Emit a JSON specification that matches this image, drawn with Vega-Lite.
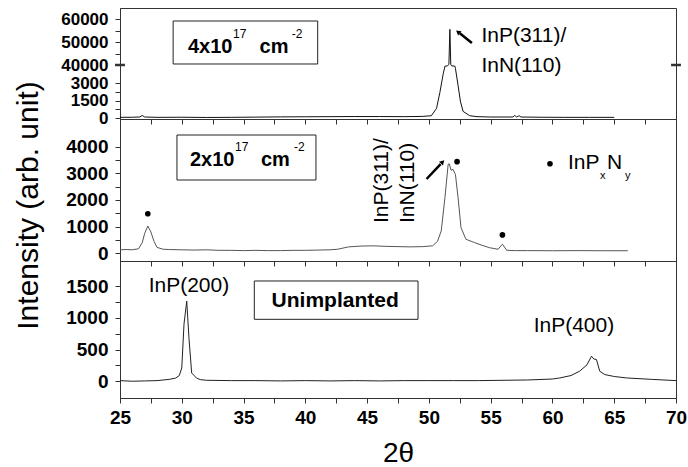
{
  "$schema": "https://vega.github.io/schema/vega-lite/v6.json",
  "padding": {"top": 7, "left": 12, "right": 0, "bottom": 0},
  "background": "white",
  "spacing": 0,
  "bounds": "flush",
  "config": {
    "font": "Liberation Sans",
    "view": {"stroke": "#333", "strokeWidth": 1},
    "axis": {"labelFont": "Liberation Sans", "labelFontSize": 19, "labelFontWeight": "bold", "labelColor": "#000", "tickColor": "#333", "domainColor": "#333", "tickSize": 5, "tickCount": 100, "grid": false, "labelOverlap": false, "labelFlush": false, "labelBound": false, "titleFont": "Liberation Sans", "titleFontWeight": "normal", "titleColor": "#000"},
    "axisY": {"labelPadding": 7},
    "axisX": {"labelPadding": 5}
  },
  "datasets": {
    "s1": [
      {"x":25,"y":60},{"x":26,"y":70},{"x":26.6,"y":90},{"x":26.8,"y":220},{"x":27.0,"y":90},{"x":28,"y":60},{"x":30,"y":70},{"x":32,"y":50},{"x":34,"y":60},{"x":36,"y":80},{"x":38,"y":100},{"x":40,"y":110},{"x":42,"y":120},{"x":44,"y":130},{"x":46,"y":130},{"x":48,"y":120},{"x":49.5,"y":140},{"x":50.2,"y":200},{"x":50.62,"y":835},{"x":50.89,"y":2190},{"x":51.16,"y":22000},{"x":51.3,"y":37700},{"x":51.5,"y":38000},{"x":51.62,"y":40300},{"x":51.7,"y":55500},{"x":51.77,"y":40300},{"x":51.84,"y":38200},{"x":52.1,"y":37800},{"x":52.15,"y":33000},{"x":52.37,"y":2730},{"x":52.56,"y":1380},{"x":52.77,"y":570},{"x":53.3,"y":200},{"x":53.9,"y":120},{"x":55,"y":90},{"x":56.8,"y":90},{"x":56.95,"y":220},{"x":57.1,"y":90},{"x":57.3,"y":200},{"x":57.45,"y":90},{"x":59,"y":70},{"x":61,"y":60},{"x":63,"y":60},{"x":65,"y":60}
    ],
    "s2": [
      {"x":25,"y":130},{"x":25.5,"y":140},{"x":26,"y":130},{"x":26.5,"y":170},{"x":26.8,"y":400},{"x":27.0,"y":750},{"x":27.25,"y":1025},{"x":27.5,"y":800},{"x":27.75,"y":450},{"x":28.0,"y":220},{"x":28.5,"y":150},{"x":29,"y":140},{"x":30,"y":130},{"x":31,"y":120},{"x":32,"y":130},{"x":33,"y":110},{"x":34,"y":110},{"x":35,"y":100},{"x":36,"y":110},{"x":37,"y":100},{"x":38,"y":100},{"x":39,"y":110},{"x":40,"y":110},{"x":41,"y":120},{"x":42,"y":130},{"x":42.6,"y":150},{"x":43.5,"y":240},{"x":44.5,"y":270},{"x":45.5,"y":280},{"x":46.5,"y":260},{"x":47.5,"y":250},{"x":48.5,"y":240},{"x":49.5,"y":250},{"x":50.3,"y":280},{"x":50.7,"y":450},{"x":51.0,"y":840},{"x":51.3,"y":2090},{"x":51.56,"y":3340},{"x":51.65,"y":3360},{"x":51.8,"y":3115},{"x":51.95,"y":3150},{"x":52.15,"y":2960},{"x":52.36,"y":2090},{"x":52.6,"y":960},{"x":53.0,"y":525},{"x":53.7,"y":400},{"x":54.3,"y":300},{"x":54.9,"y":210},{"x":55.6,"y":150},{"x":55.95,"y":340},{"x":56.3,"y":113},{"x":57,"y":100},{"x":58,"y":100},{"x":60,"y":95},{"x":62,"y":100},{"x":64,"y":95},{"x":66.1,"y":95}
    ],
    "s3": [
      {"x":25,"y":10},{"x":26,"y":0},{"x":27,"y":5},{"x":28,"y":10},{"x":29,"y":30},{"x":29.5,"y":50},{"x":29.8,"y":90},{"x":30.0,"y":210},{"x":30.18,"y":900},{"x":30.4,"y":1263},{"x":30.58,"y":685},{"x":30.8,"y":130},{"x":31.2,"y":50},{"x":31.5,"y":26},{"x":32,"y":15},{"x":34,"y":10},{"x":36,"y":10},{"x":38,"y":5},{"x":40,"y":10},{"x":42,"y":5},{"x":44,"y":10},{"x":46,"y":5},{"x":48,"y":10},{"x":50,"y":10},{"x":52,"y":10},{"x":54,"y":10},{"x":56,"y":15},{"x":58,"y":20},{"x":60,"y":35},{"x":60.6,"y":52},{"x":61.5,"y":90},{"x":62.2,"y":158},{"x":62.8,"y":260},{"x":63.16,"y":395},{"x":63.35,"y":350},{"x":63.56,"y":343},{"x":63.83,"y":158},{"x":64.24,"y":105},{"x":65,"y":75},{"x":66,"y":52},{"x":68,"y":30},{"x":70,"y":10}
    ]
  },
  "vconcat": [
    {
      "width": 556, "height": 111,
      "layer": [
        {"data": {"name": "s1"}, "mark": {"type": "line", "color": "#111", "strokeWidth": 1},
         "encoding": {
           "x": {"field": "x", "type": "quantitative", "scale": {"domain": [25, 70], "nice": false, "zero": false},
                 "axis": {"values": [25,27.5,30,32.5,35,37.5,40,42.5,45,47.5,50,52.5,55,57.5,60,62.5,65,67.5,70], "tickCount": 100, "labels": false, "title": null}},
           "y": {"field": "y", "type": "quantitative", "scale": {"domain": [-81, 3000, 40000, 64783], "range": [111, 75, 57, 0], "nice": false, "zero": false},
                 "axis": {"values": [0,750,1500,2250,3000,40000,45000,50000,55000,60000], "tickCount": 100, "format": "d", "labelOverlap": false, "labelFontSize": 17,
                          "labelExpr": "(datum.value == 0 || datum.value == 1500 || datum.value == 3000 || datum.value == 40000 || datum.value == 50000 || datum.value == 60000) ? datum.label : ''", "title": null}}}},
        {"data": {"values": [{"x": 29.3, "x2": 41.0, "y": 40435, "y2": 59130}]},
         "mark": {"type": "rect", "fillOpacity": 0, "stroke": "#222", "strokeWidth": 1},
         "encoding": {"x": {"field": "x", "type": "quantitative"}, "x2": {"field": "x2"}, "y": {"field": "y", "type": "quantitative"}, "y2": {"field": "y2"}}},
        {"data": {"values": [{"x": 30.5, "y": 45217, "t": "4x10"}, {"x": 36.3, "y": 45217, "t": "cm"}]},
         "mark": {"type": "text", "align": "left", "baseline": "alphabetic", "fontSize": 20, "fontWeight": "bold", "color": "#000"},
         "encoding": {"x": {"field": "x", "type": "quantitative"}, "y": {"field": "y", "type": "quantitative"}, "text": {"field": "t"}}},
        {"data": {"values": [{"x": 34.15, "y": 51740, "t": "17"}, {"x": 38.9, "y": 51740, "t": "-2"}]},
         "mark": {"type": "text", "align": "left", "baseline": "alphabetic", "fontSize": 12, "color": "#000"},
         "encoding": {"x": {"field": "x", "type": "quantitative"}, "y": {"field": "y", "type": "quantitative"}, "text": {"field": "t"}}},
        {"data": {"values": [{"x": 54.25, "y": 52600, "t": "InP(311)/"}, {"x": 54.25, "y": 37690, "t": "InN(110)"}]},
         "mark": {"type": "text", "align": "left", "baseline": "middle", "fontSize": 21, "color": "#000"},
         "encoding": {"x": {"field": "x", "type": "quantitative"}, "y": {"field": "y", "type": "quantitative"}, "text": {"field": "t"}}},
        {"data": {"values": [{"x": 53.48, "y": 49565, "x2": 52.5, "y2": 53800}]},
         "mark": {"type": "rule", "color": "#000", "strokeWidth": 2.5},
         "encoding": {"x": {"field": "x", "type": "quantitative"}, "y": {"field": "y", "type": "quantitative"}, "x2": {"field": "x2"}, "y2": {"field": "y2"}}},
        {"data": {"values": [{"x": 52.35, "y": 54348}]},
         "mark": {"type": "point", "shape": "triangle-up", "angle": 308, "size": 30, "filled": true, "color": "#000", "opacity": 1},
         "encoding": {"x": {"field": "x", "type": "quantitative"}, "y": {"field": "y", "type": "quantitative"}}},
        {"data": {"values": [{"x": 24.6, "x2": 25.4, "y": 40000}, {"x": 69.6, "x2": 70.4, "y": 40000}]},
         "mark": {"type": "rule", "color": "#333", "strokeWidth": 2.5},
         "encoding": {"x": {"field": "x", "type": "quantitative"}, "x2": {"field": "x2"}, "y": {"field": "y", "type": "quantitative"}}}
      ]
    },
    {
      "width": 556, "height": 142,
      "layer": [
        {"data": {"name": "s2"}, "mark": {"type": "line", "color": "#555", "strokeWidth": 1},
         "encoding": {
           "x": {"field": "x", "type": "quantitative", "scale": {"domain": [25, 70], "nice": false, "zero": false},
                 "axis": {"values": [25,27.5,30,32.5,35,37.5,40,42.5,45,47.5,50,52.5,55,57.5,60,62.5,65,67.5,70], "tickCount": 100, "labels": false, "title": null}},
           "y": {"field": "y", "type": "quantitative", "scale": {"domain": [-290, 5040], "nice": false, "zero": false},
                 "axis": {"values": [0,500,1000,1500,2000,2500,3000,3500,4000], "tickCount": 100, "format": "d", "labelOverlap": false, "labelExpr": "datum.value % 1000 === 0 ? datum.label : ''",
                          "title": "Intensity (arb. unit)", "titleFontSize": 30, "titleAngle": 270, "titleBaseline": "alphabetic", "titleAlign": "center", "titleX": -83, "titleY": 86}}}},
        {"data": {"values": [{"x": 29.61, "x2": 40.86, "y": 2750, "y2": 4439}]},
         "mark": {"type": "rect", "fillOpacity": 0, "stroke": "#222", "strokeWidth": 1},
         "encoding": {"x": {"field": "x", "type": "quantitative"}, "x2": {"field": "x2"}, "y": {"field": "y", "type": "quantitative"}, "y2": {"field": "y2"}}},
        {"data": {"values": [{"x": 30.66, "y": 3276, "t": "2x10"}, {"x": 36.41, "y": 3276, "t": "cm"}]},
         "mark": {"type": "text", "align": "left", "baseline": "alphabetic", "fontSize": 20, "fontWeight": "bold", "color": "#000"},
         "encoding": {"x": {"field": "x", "type": "quantitative"}, "y": {"field": "y", "type": "quantitative"}, "text": {"field": "t"}}},
        {"data": {"values": [{"x": 34.31, "y": 3839, "t": "17"}, {"x": 39.08, "y": 3839, "t": "-2"}]},
         "mark": {"type": "text", "align": "left", "baseline": "alphabetic", "fontSize": 12, "color": "#000"},
         "encoding": {"x": {"field": "x", "type": "quantitative"}, "y": {"field": "y", "type": "quantitative"}, "text": {"field": "t"}}},
        {"data": {"values": [{"x": 46.21, "y": 1137, "t": "InP(311)/"}, {"x": 48.31, "y": 1137, "t": "InN(110)"}]},
         "mark": {"type": "text", "align": "left", "baseline": "middle", "angle": 270, "fontSize": 21, "color": "#000"},
         "encoding": {"x": {"field": "x", "type": "quantitative"}, "y": {"field": "y", "type": "quantitative"}, "text": {"field": "t"}}},
        {"data": {"values": [{"x": 49.81, "y": 2788, "x2": 50.95, "y2": 3350}]},
         "mark": {"type": "rule", "color": "#000", "strokeWidth": 2.5},
         "encoding": {"x": {"field": "x", "type": "quantitative"}, "y": {"field": "y", "type": "quantitative"}, "x2": {"field": "x2"}, "y2": {"field": "y2"}}},
        {"data": {"values": [{"x": 51.11, "y": 3426}]},
         "mark": {"type": "point", "shape": "triangle-up", "angle": 43, "size": 30, "filled": true, "color": "#000", "opacity": 1},
         "encoding": {"x": {"field": "x", "type": "quantitative"}, "y": {"field": "y", "type": "quantitative"}}},
        {"data": {"values": [{"x": 27.25, "y": 1485}, {"x": 52.28, "y": 3440}, {"x": 55.95, "y": 690}, {"x": 59.8, "y": 3360}]},
         "mark": {"type": "point", "shape": "circle", "size": 32, "filled": true, "color": "#000", "opacity": 1},
         "encoding": {"x": {"field": "x", "type": "quantitative"}, "y": {"field": "y", "type": "quantitative"}}},
        {"data": {"values": [{"x": 61.26, "y": 3388, "t": "InP"}, {"x": 64.41, "y": 3388, "t": "N"}]},
         "mark": {"type": "text", "align": "left", "baseline": "middle", "fontSize": 21, "color": "#000"},
         "encoding": {"x": {"field": "x", "type": "quantitative"}, "y": {"field": "y", "type": "quantitative"}, "text": {"field": "t"}}},
        {"data": {"values": [{"x": 63.85, "y": 2900, "t": "x"}, {"x": 65.87, "y": 2900, "t": "y"}]},
         "mark": {"type": "text", "align": "left", "baseline": "middle", "fontSize": 11, "color": "#000"},
         "encoding": {"x": {"field": "x", "type": "quantitative"}, "y": {"field": "y", "type": "quantitative"}, "text": {"field": "t"}}}
      ]
    },
    {
      "width": 556, "height": 137,
      "layer": [
        {"data": {"name": "s3"}, "mark": {"type": "line", "color": "#222", "strokeWidth": 1},
         "encoding": {
           "x": {"field": "x", "type": "quantitative", "scale": {"domain": [25, 70], "nice": false, "zero": false},
                 "axis": {"values": [25,27.5,30,32.5,35,37.5,40,42.5,45,47.5,50,52.5,55,57.5,60,62.5,65,67.5,70], "tickCount": 100, "format": "d", "labelOverlap": false, "labelExpr": "datum.value % 5 === 0 ? datum.label : ''",
                          "title": "2θ", "titleFontSize": 28, "titleBaseline": "alphabetic", "titleY": 63}},
           "y": {"field": "y", "type": "quantitative", "scale": {"domain": [-264, 1895], "nice": false, "zero": false},
                 "axis": {"values": [0,250,500,750,1000,1250,1500], "tickCount": 100, "format": "d", "labelOverlap": false, "labelExpr": "datum.value % 500 === 0 ? datum.label : ''", "title": null}}}},
        {"data": {"values": [{"x": 30.58, "y": 1500, "t": "InP(200)"}, {"x": 61.74, "y": 870, "t": "InP(400)"}]},
         "mark": {"type": "text", "align": "center", "baseline": "middle", "fontSize": 21, "color": "#000"},
         "encoding": {"x": {"field": "x", "type": "quantitative"}, "y": {"field": "y", "type": "quantitative"}, "text": {"field": "t"}}},
        {"data": {"values": [{"x": 35.87, "x2": 49.12, "y": 976, "y2": 1580}]},
         "mark": {"type": "rect", "fillOpacity": 0, "stroke": "#222", "strokeWidth": 1},
         "encoding": {"x": {"field": "x", "type": "quantitative"}, "x2": {"field": "x2"}, "y": {"field": "y", "type": "quantitative"}, "y2": {"field": "y2"}}},
        {"data": {"values": [{"x": 37.27, "y": 1265, "t": "Unimplanted"}]},
         "mark": {"type": "text", "align": "left", "baseline": "middle", "fontSize": 21, "fontWeight": "bold", "color": "#000"},
         "encoding": {"x": {"field": "x", "type": "quantitative"}, "y": {"field": "y", "type": "quantitative"}, "text": {"field": "t"}}}
      ]
    }
  ]
}
